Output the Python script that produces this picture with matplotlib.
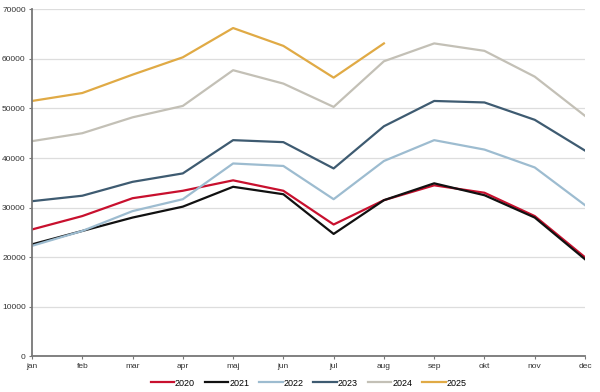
import matplotlib.pyplot as plt

plt.rcParams["font.family"] = ["Liberation Sans", "DejaVu Sans"]

months = ["jan", "feb", "mar", "apr", "maj", "jun", "jul", "aug", "sep", "okt", "nov", "dec"]

y2020 = [25600, 28300, 31900, 33400, 35500, 33400, 26600, 31500, 34500, 33000, 28300, 20000]
y2021 = [22600, 25300, 28000, 30200, 34200, 32700, 24700, 31500, 34900, 32500, 28000, 19600]
y2022 = [22300, 25300, 29300, 31700, 38900, 38400, 31700, 39400, 43600, 41700, 38100, 30500]
y2023 = [31300, 32400, 35200, 36900, 43600, 43200, 37900, 46400, 51500, 51200, 47700, 41500]
y2024 = [43400, 45000, 48200, 50500, 57700, 55000, 50300, 59500, 63100, 61600, 56400, 48500]
y2025 = [51500, 53100, 56800, 60300, 66200, 62600, 56200, 63100]

series = [
    ("2020", y2020, "#c8102e"),
    ("2021", y2021, "#111111"),
    ("2022", y2022, "#9dbcd0"),
    ("2023", y2023, "#3e5b71"),
    ("2024", y2024, "#c3c0b6"),
    ("2025", y2025, "#e0aa45"),
]

fig = plt.figure(figsize=(6, 3.92), dpi=100)
ax = fig.add_axes([32 / 600, 0.0906, 553 / 600, 0.886])

for name, vals, col in series:
    ax.plot(months[:len(vals)], vals, color=col, linewidth=1.6, label=name)

ax.set_ylim(0, 70000)
ax.set_xlim(0, 11)
ax.set_yticks(range(0, 70001, 10000))
ax.grid(axis="y", color="#dddddd", linewidth=0.9)
ax.set_axisbelow(True)

for s in ["top", "right"]:
    ax.spines[s].set_visible(False)
for s in ["left", "bottom"]:
    ax.spines[s].set_color("#777777")
    ax.spines[s].set_linewidth(1.3)

ax.tick_params(axis="both", labelsize=6, colors="#777777", labelcolor="#333333",
               length=2.5, width=0.8, pad=2)

ax.legend(loc="upper center", bbox_to_anchor=(0.5, -0.04), ncol=6, frameon=False,
          fontsize=6.5, handlelength=2.6, handletextpad=0.1, columnspacing=1.1)

fig.savefig("out.png", dpi=100)
